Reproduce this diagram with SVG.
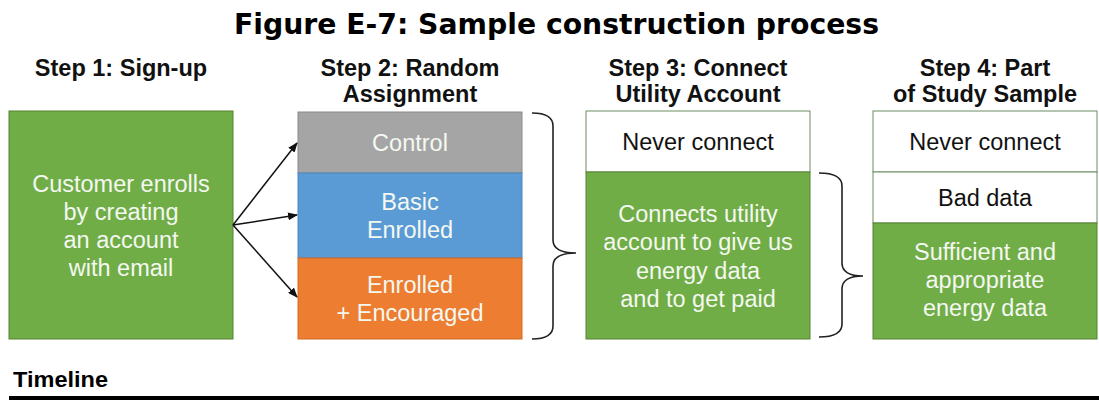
<svg xmlns="http://www.w3.org/2000/svg" width="1099" height="405" viewBox="0 0 1099 405">
<style>
.title{font-family:"DejaVu Sans",Verdana,sans-serif;font-weight:bold;font-size:29px;fill:#000}
.hdr{font-family:"Liberation Sans",Arial,sans-serif;font-weight:bold;font-size:23.5px;fill:#111;text-anchor:middle}
.lt{font-family:"Liberation Sans",Arial,sans-serif;font-size:23.5px;fill:#f4f8f1;text-anchor:middle}
.dk{font-family:"Liberation Sans",Arial,sans-serif;font-size:23.5px;fill:#111;text-anchor:middle}
.green{fill:#70AD47;stroke:#548235;stroke-width:1}
.gray{fill:#A5A5A5;stroke:#8a8a8a;stroke-width:1}
.blue{fill:#5B9BD5;stroke:#4a86bd;stroke-width:1}
.orange{fill:#ED7D31;stroke:#d26a25;stroke-width:1}
.white{fill:#fff;stroke:#6f8c60;stroke-width:1}
.arrow{stroke:#111;stroke-width:1.5;fill:none;marker-end:url(#ah)}
.brace{stroke:#222;stroke-width:1.6;fill:none}
</style>
<defs>
<marker id="ah" markerWidth="10" markerHeight="8" refX="9" refY="4" orient="auto" markerUnits="userSpaceOnUse">
<path d="M0,0 L10,4 L0,8 Z" fill="#111"/>
</marker>
</defs>

<text class="title" x="234" y="34" textLength="645" lengthAdjust="spacingAndGlyphs">Figure E-7: Sample construction process</text>

<g id="headers">
<text class="hdr" x="121" y="76">Step 1: Sign-up</text>
<text class="hdr" x="410" y="76">Step 2: Random</text>
<text class="hdr" x="410" y="102">Assignment</text>
<text class="hdr" x="698" y="76">Step 3: Connect</text>
<text class="hdr" x="698" y="102">Utility Account</text>
<text class="hdr" x="985" y="76">Step 4: Part</text>
<text class="hdr" x="985" y="102">of Study Sample</text>
</g>

<g id="step1">
<rect class="green" x="9" y="111" width="224" height="228"/>
<text class="lt" x="121" y="192">Customer enrolls</text>
<text class="lt" x="121" y="220">by creating</text>
<text class="lt" x="121" y="248">an account</text>
<text class="lt" x="121" y="276">with email</text>
</g>

<g id="step2">
<rect class="gray" x="298" y="112" width="224" height="61"/>
<rect class="blue" x="298" y="173" width="224" height="85"/>
<rect class="orange" x="298" y="258" width="224" height="81"/>
<text class="lt" x="410" y="151">Control</text>
<text class="lt" x="410" y="210">Basic</text>
<text class="lt" x="410" y="238">Enrolled</text>
<text class="lt" x="410" y="293">Enrolled</text>
<text class="lt" x="410" y="321">+ Encouraged</text>
</g>

<g id="step3">
<rect class="white" x="586" y="111" width="224" height="61"/>
<rect class="green" x="586" y="172" width="224" height="167"/>
<text class="dk" x="698" y="150">Never connect</text>
<text class="lt" x="698" y="222">Connects utility</text>
<text class="lt" x="698" y="250">account to give us</text>
<text class="lt" x="698" y="279">energy data</text>
<text class="lt" x="698" y="307">and to get paid</text>
</g>

<g id="step4">
<rect class="white" x="873" y="111" width="224" height="61"/>
<rect class="white" x="873" y="172" width="224" height="51"/>
<rect class="green" x="873" y="223" width="224" height="116"/>
<text class="dk" x="985" y="150">Never connect</text>
<text class="dk" x="985" y="206">Bad data</text>
<text class="lt" x="985" y="260">Sufficient and</text>
<text class="lt" x="985" y="288">appropriate</text>
<text class="lt" x="985" y="316">energy data</text>
</g>

<g id="connectors">
<line class="arrow" x1="233" y1="225" x2="297" y2="143"/>
<line class="arrow" x1="233" y1="225" x2="297" y2="215"/>
<line class="arrow" x1="233" y1="225" x2="297" y2="297"/>
<path class="brace" d="M532,113 Q553,113 553,126 L553,240 Q553,253 576,253 Q553,253 553,266 L553,326 Q553,339 532,339"/>
<path class="brace" d="M819,173 Q842,173 842,186 L842,263 Q842,276 863,276 Q842,276 842,289 L842,324 Q842,337 819,337"/>
</g>

<g id="timeline">
<text x="13" y="387" style="font-family:'Liberation Sans',Arial,sans-serif;font-weight:bold;font-size:22px;fill:#000" textLength="95" lengthAdjust="spacingAndGlyphs">Timeline</text>
<line x1="9" y1="398" x2="1099" y2="398" stroke="#000" stroke-width="4"/>
</g>
</svg>
